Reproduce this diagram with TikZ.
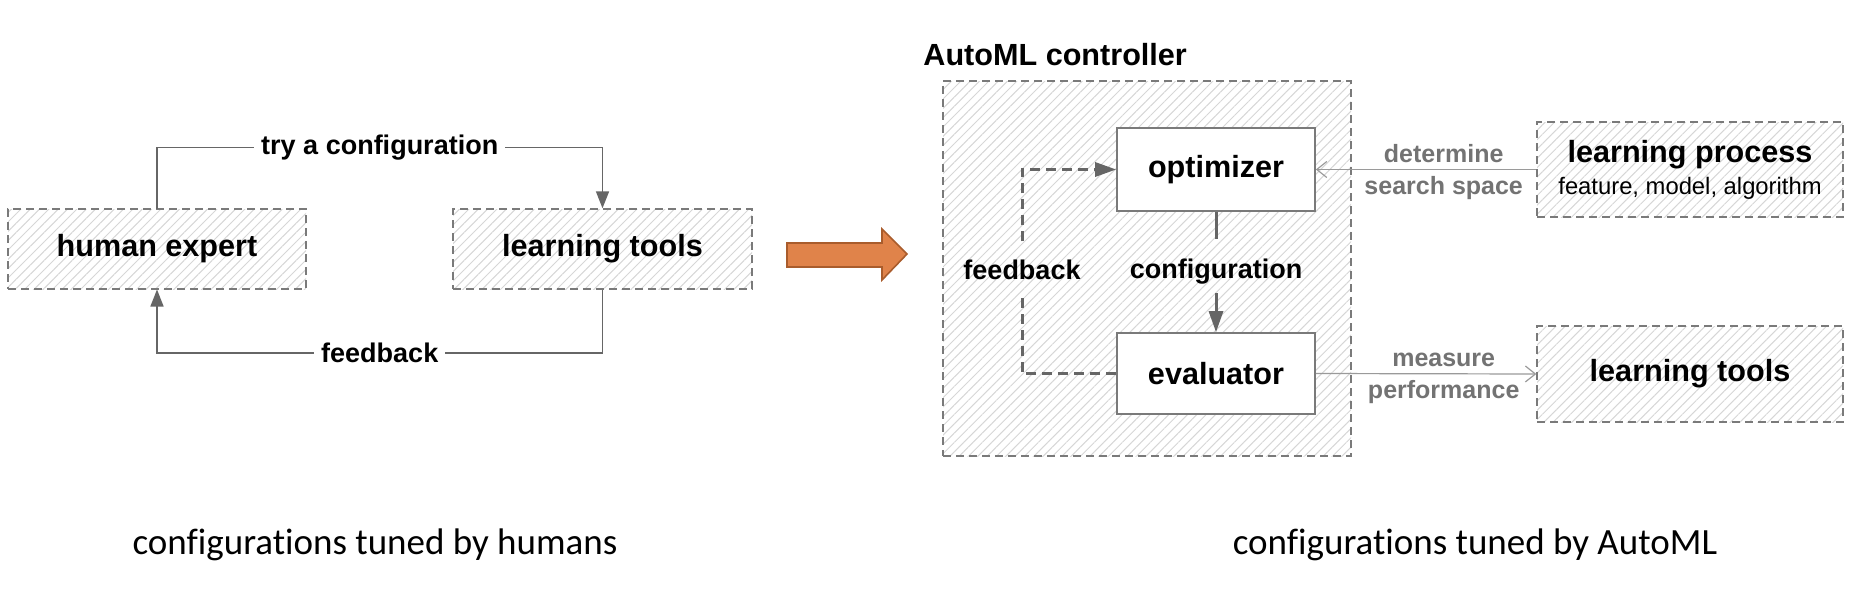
\documentclass[tikz,border=0pt]{standalone}
\usepackage{fontspec}
\setmainfont{Liberation Sans}
\newfontfamily\capfnt[Ligatures=NoCommon]{Carlito}
\usetikzlibrary{patterns.meta,arrows.meta}

\definecolor{linkgray}{HTML}{666666}
\definecolor{boxgray}{HTML}{7A7A7A}
\definecolor{hatchgray}{HTML}{D6D6D6}
\definecolor{thingray}{HTML}{9A9A9A}
\definecolor{labelgray}{HTML}{737373}
\definecolor{arroworange}{HTML}{E0834A}
\definecolor{arrowedge}{HTML}{A95C2C}

\newcommand\boxfnt{\fontsize{15.3}{18}\selectfont\bfseries}
\newcommand\edgefnt{\fontsize{13.5}{16}\selectfont\bfseries}
\newcommand\notefnt{\fontsize{12.5}{15}\selectfont\bfseries}
\newcommand\subfnt{\fontsize{11.9}{15}\selectfont\mdseries}

\begin{document}
\begin{tikzpicture}[x=0.5pt,y=-0.5pt,
    hatchbox/.style={draw=boxgray, line width=0.7pt, dash pattern=on 4pt off 2.5pt,
      pattern={Lines[angle=45,distance=3.3pt,line width=0.5pt]}, pattern color=hatchgray,
      inner sep=0pt, font=\boxfnt},
    solidbox/.style={draw=boxgray, line width=0.8pt, fill=white,
      minimum width=99pt, inner sep=0pt, font=\boxfnt},
    wire/.style={draw=linkgray, line width=0.8pt},
    headtip/.style={-{Triangle[length=8.5pt,width=6.5pt]}},
    bighead/.style={-{Triangle[length=10.5pt,width=7pt]}},
    cycleline/.style={draw=linkgray, line width=1.5pt},
    feedline/.style={cycleline, dash pattern=on 5pt off 3pt},
    probe/.style={draw=thingray, line width=0.6pt},
    edgelabel/.style={fill=white, inner xsep=3.5pt, inner ysep=1pt, font=\edgefnt},
    graynote/.style={font=\notefnt, text=labelgray, inner sep=3pt},
    caption/.style={font=\capfnt\fontsize{18.5}{22}\selectfont}]
  \useasboundingbox (0,0) rectangle (1856,594);

  % tuned by hand
  \node[hatchbox, minimum width=149pt, minimum height=40pt] (expert) at (157,249) {human expert};
  \node[hatchbox, minimum width=149.5pt, minimum height=40pt] (tools) at (602.5,249) {learning tools};
  \draw[wire, headtip] (expert.north) -- ++(0,-61) -| node[pos=0.25, edgelabel] (try) {try a configuration} (tools.north);
  \draw[wire, headtip] (tools.south) -- ++(0,63) -| node[pos=0.25, edgelabel] (back) {feedback} (expert.south);

  \filldraw[fill=arroworange, draw=arrowedge, line width=0.8pt]
    (787,243) -- (882,243) -- (882,229) -- (907,254) -- (882,280) -- (882,267) -- (787,267) -- cycle;

  % tuned by AutoML
  \node[hatchbox, minimum width=204pt, minimum height=187.5pt] (ctrl) at (1147,268.5) {};
  \node[anchor=base west, inner sep=0pt, font=\boxfnt] (title) at (923,65) {AutoML controller};
  \node[solidbox, minimum height=41.5pt] (opt) at (1216,169.5) {optimizer};
  \node[solidbox, minimum height=40.5pt] (eval) at (1216,373.5) {evaluator};
  \node[font=\edgefnt, inner ysep=4pt] (cfg) at (1216,272) {configuration};
  \node[font=\edgefnt, inner ysep=8.85pt] (fbk) at (1022,269.5) {feedback};
  \draw[cycleline, shorten >=6pt] (opt.south) -- (cfg.north);
  \draw[cycleline, bighead] (cfg.south) -- (eval.north);
  \draw[feedline] (eval.west) -| (fbk.south);
  \draw[feedline, bighead] (fbk.north) |- (opt.west);

  \node[hatchbox, minimum width=153pt, minimum height=47.5pt, align=center] (proc) at (1690,169.5)
    {learning process\\[-2pt]{\subfnt feature, model, algorithm}};
  \node[hatchbox, minimum width=153pt, minimum height=48pt] (tools2) at (1690,374) {learning tools};
  \draw[probe, {Straight Barb[length=5pt,width=8pt]}-] (opt.east) --
    node[pos=0.58, above, graynote] (det) {determine}
    node[pos=0.58, below, graynote] (space) {search space} (proc.west);
  \draw[probe, -{Straight Barb[length=5pt,width=8pt]}] (eval.east) --
    node[pos=0.58, above, graynote] (meas) {measure}
    node[pos=0.58, below, graynote] (perf) {performance} (tools2.west);

  \node[caption] (humancap) at (375,545) {configurations tuned by humans};
  \node[caption] (automlcap) at (1475,545) {configurations tuned by AutoML};
\end{tikzpicture}
\end{document}
